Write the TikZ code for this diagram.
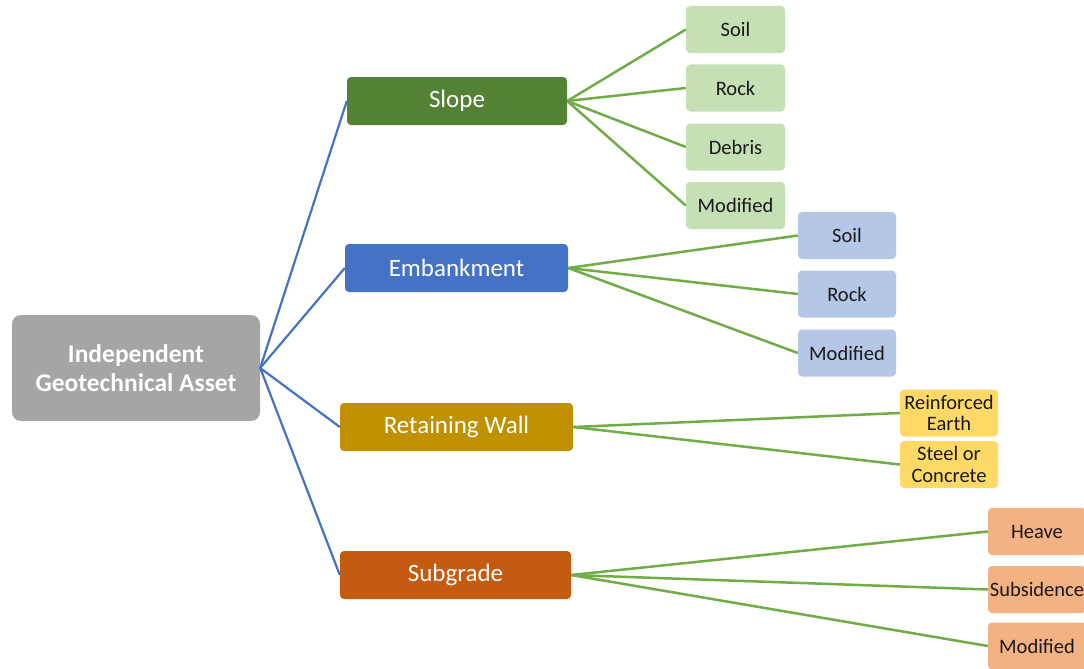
\documentclass[tikz,border=0pt]{standalone}
\usepackage{fontspec}
\setmainfont{Carlito}
\definecolor{rootc}{HTML}{A5A5A5}
\definecolor{slopec}{HTML}{548235}
\definecolor{embc}{HTML}{4472C4}
\definecolor{retc}{HTML}{BF9000}
\definecolor{subc}{HTML}{C55A11}
\definecolor{slopel}{HTML}{C5E0B4}
\definecolor{embl}{HTML}{B4C7E7}
\definecolor{retl}{HTML}{FFD966}
\definecolor{subl}{HTML}{F4B183}
\definecolor{bline}{HTML}{4472C4}
\definecolor{gline}{HTML}{70AD47}
\definecolor{txt}{HTML}{1A1A1A}
\tikzset{
  rootbox/.style={fill=rootc, text=white, rounded corners=9pt, inner sep=0pt,
    minimum width=248pt, minimum height=106pt, align=center,
    font=\fontsize{25.5}{29}\selectfont\bfseries},
  catbox/.style={fill=#1, text=white, rounded corners=4pt, inner sep=0pt,
    minimum height=48pt, font=\fontsize{25}{30}\selectfont},
  leafbox/.style={fill=#1, text=txt, rounded corners=4pt, inner sep=0pt,
    minimum width=98pt, minimum height=47pt, align=center,
    font=\fontsize{20.5}{21.5}\selectfont},
  bconn/.style={draw=bline, line width=2.2pt},
  gconn/.style={draw=gline, line width=2.5pt},
}
\begin{document}
\begin{tikzpicture}[x=1pt,y=-1pt]
\useasboundingbox (0,0) rectangle (1084,669);
\fill[white] (0,0) rectangle (1084,669);

\node[rootbox] (root) at (136,368) {Independent\\Geotechnical Asset};

\node[catbox=slopec, minimum width=220pt] (slope) at (457,101) {Slope};
\node[catbox=embc, minimum width=223pt] (emb) at (456.5,268) {Embankment};
\node[catbox=retc, minimum width=233pt] (ret) at (456.5,427) {Retaining Wall};
\node[catbox=subc, minimum width=231pt] (sub) at (455.5,575) {Subgrade};

\node[leafbox=slopel, minimum width=99pt] (s1) at (735.5,29.5) {Soil};
\node[leafbox=slopel, minimum width=99pt] (s2) at (735.5,88) {Rock};
\node[leafbox=slopel, minimum width=99pt] (s3) at (735.5,147) {Debris};
\node[leafbox=slopel, minimum width=99pt] (s4) at (735.5,205.5) {Modified};

\node[leafbox=embl] (e1) at (847,235.5) {Soil};
\node[leafbox=embl] (e2) at (847,294) {Rock};
\node[leafbox=embl] (e3) at (847,353) {Modified};

\node[leafbox=retl] (r1) at (949,413) {Reinforced\\Earth};
\node[leafbox=retl] (r2) at (949,464.5) {Steel or\\Concrete};

\node[leafbox=subl] (g1) at (1037,531.5) {Heave};
\node[leafbox=subl] (g2) at (1037,589.5) {Subsidence};
\node[leafbox=subl] (g3) at (1037,646) {Modified};

\foreach \c in {slope,emb,ret,sub}
  \draw[bconn] (root.east) -- (\c.west);
\foreach \l in {s1,s2,s3,s4}
  \draw[gconn] (slope.east) -- (\l.west);
\foreach \l in {e1,e2,e3}
  \draw[gconn] (emb.east) -- (\l.west);
\foreach \l in {r1,r2}
  \draw[gconn] (ret.east) -- (\l.west);
\foreach \l in {g1,g2,g3}
  \draw[gconn] (sub.east) -- (\l.west);
\end{tikzpicture}
\end{document}
